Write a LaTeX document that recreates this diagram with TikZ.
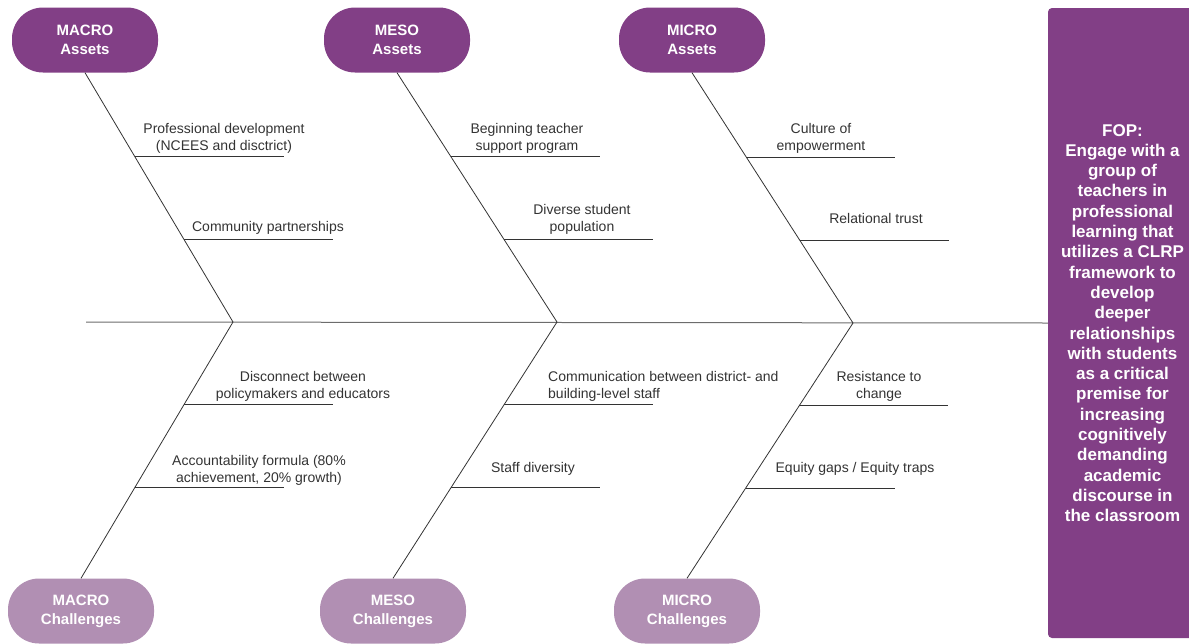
\documentclass[tikz,border=0pt]{standalone}
\usepackage{fontspec}
\setmainfont{Liberation Sans}
\usetikzlibrary{positioning}
\usetikzlibrary{calc}
\definecolor{fopdark}{HTML}{823F86}
\definecolor{foplight}{HTML}{B18FB3}
\definecolor{ink}{HTML}{333333}
\tikzset{%
  bone/.style = {draw=ink,line width=0.8pt},
  spine/.style = {draw=gray!85!black,line width=1pt},
  asset/.style = {rectangle,rounded corners=31pt,fill=fopdark,text=white,
        font=\fontsize{15}{19}\selectfont\bfseries,align=center,
        minimum width=146pt,minimum height=65pt},
  chal/.style = {asset,fill=foplight},
  lbl/.style = {text=ink,font=\fontsize{14}{17}\selectfont,align=center,
        inner sep=0pt}
}
\begin{document}
\begin{tikzpicture}[x=1pt,y=-1pt]
    \useasboundingbox (0,0) rectangle (1189,643);
    % goal box and spine
    \node[rectangle,rounded corners=4pt,fill=fopdark,text=white,
        minimum width=149pt,minimum height=630pt,align=center,
        font=\fontsize{17}{20.3}\selectfont\bfseries] (fop) at (1122.5,323)
        {FOP:\\Engage with a\\group of\\teachers in\\professional\\learning that\\utilizes a CLRP\\framework to\\develop\\deeper\\relationships\\with students\\as a critical\\premise for\\increasing\\cognitively\\demanding\\academic\\discourse in\\the classroom};
    \coordinate (tail) at (86,322);
    \draw[spine] (tail) -- (fop.west);
    \coordinate (j1) at (233,322);
    \coordinate (j2) at (557,322);
    \coordinate (j3) at (853,323);
    % heads
    \node[asset] (ma) at (85,40) {MACRO\\Assets};
    \node[asset] (ea) at (397,40) {MESO\\Assets};
    \node[asset] (ia) at (692,40) {MICRO\\Assets};
    \node[chal] (mc) at (81,611) {MACRO\\Challenges};
    \node[chal] (ec) at (393,611) {MESO\\Challenges};
    \node[chal] (ic) at (687,611) {MICRO\\Challenges};
    % bones
    \draw[bone] (ma.south) -- (j1) coordinate[pos=0.337] (ma1) coordinate[pos=0.67] (ma2);
    \draw[bone] (ea.south) -- (j2) coordinate[pos=0.337] (ea1) coordinate[pos=0.67] (ea2);
    \draw[bone] (ia.south) -- (j3) coordinate[pos=0.337] (ia1) coordinate[pos=0.67] (ia2);
    \draw[bone] (j1) -- (mc.north) coordinate[pos=0.323] (mc1) coordinate[pos=0.646] (mc2);
    \draw[bone] (j2) -- (ec.north) coordinate[pos=0.323] (ec1) coordinate[pos=0.646] (ec2);
    \draw[bone] (j3) -- (ic.north) coordinate[pos=0.323] (ic1) coordinate[pos=0.646] (ic2);
    \foreach \c in {ma1,ma2,ea1,ea2,ia1,ia2,mc1,mc2,ec1,ec2,ic1,ic2}
        \draw[bone] (\c) -- ++(149,0);
    % causes
    \node[lbl] (pd) at (224,138) {Professional development\\(NCEES and disctrict)};
    \node[lbl] (cp) at (268,228) {Community partnerships};
    \node[lbl] (bt) at (527,138) {Beginning teacher\\support program};
    \node[lbl] (ds) at (582,219) {Diverse student\\population};
    \node[lbl] (ce) at (821,138) {Culture of\\empowerment};
    \node[lbl] (rt) at (876,218) {Relational trust};
    \node[lbl] (dc) at (303,386) {Disconnect between\\policymakers and educators};
    \node[lbl] (af) at (259,470) {Accountability formula (80\%\\achievement, 20\% growth)};
    \node[lbl,anchor=west,align=left] (cm) at (548,386) {Communication between district- and\\building-level staff};
    \node[lbl] (sd) at (533,469) {Staff diversity};
    \node[lbl] (rc) at (879,386) {Resistance to\\change};
    \node[lbl] (eg) at (855,469) {Equity gaps / Equity traps};
\end{tikzpicture}
\end{document}
